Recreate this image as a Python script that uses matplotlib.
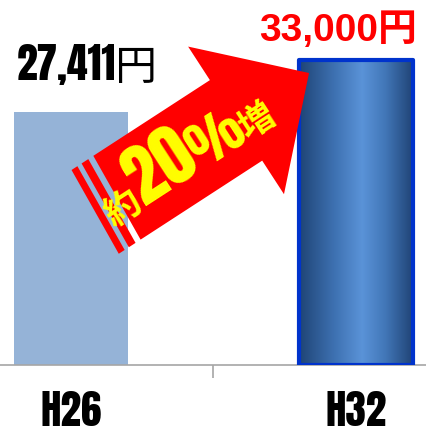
import numpy as np
import matplotlib
matplotlib.use("Agg")
import matplotlib.pyplot as plt
from matplotlib.patches import Polygon
from matplotlib.colors import LinearSegmentedColormap
from matplotlib.transforms import Affine2D, IdentityTransform

# data
years = ["H26", "H32"]
costs = [27411, 33000]
cost_labels = ["27,411円", "33,000円"]
growth_parts = ["約", "20", "%", "増"]

NARROW = ["Anton", "DejaVu Sans", "Noto Sans CJK JP"]
WIDE = ["Liberation Sans", "DejaVu Sans", "Noto Sans CJK JP"]
CJK = ["Noto Sans CJK JP", "DejaVu Sans"]

W, H = 427, 446
fig = plt.figure(figsize=(W / 100, H / 100), dpi=100)
ax = fig.add_axes([0, 81 / H, 1, 365 / H])

x = np.arange(len(years))
bar_w = 0.4

# H26 - plain light blue
ax.bar(x[0], costs[0], bar_w, color="#95B3D7", zorder=2)

# H32 - cylinder-ish gradient with blue frame
b2 = ax.bar(x[1], costs[1], bar_w, facecolor="none", edgecolor="#0033CC",
            linewidth=3, joinstyle="round", zorder=4)[0]
cyl = LinearSegmentedColormap.from_list("cyl", [
    (0.00, "#1F4476"), (0.30, "#3D70B0"), (0.55, "#5A93D8"),
    (0.75, "#4277B8"), (1.00, "#1F4274")])
grad = np.linspace(0, 1, 256)[None, :]
im = ax.imshow(grad, cmap=cyl, aspect="auto", zorder=3,
               extent=[b2.get_x(), b2.get_x() + b2.get_width(), 0, b2.get_height()])
im.set_clip_path(b2)

ax.set_xlim(-0.249, 1.249)
ax.set_ylim(0, 39492)
for s in ("top", "left", "right"):
    ax.spines[s].set_visible(False)
ax.spines["bottom"].set_color("#A6A6A6")
ax.spines["bottom"].set_linewidth(1.2)
ax.set_yticks([])
ax.set_xticks(x, years)
ax.tick_params(axis="x", which="major", length=0, pad=19)
ax.set_xticks([0.5], minor=True)
ax.tick_params(axis="x", which="minor", length=9, width=1.2, color="#A6A6A6")
for lbl in ax.get_xticklabels():
    lbl.set_family(NARROW)
    lbl.set_fontsize(29.5)

# value labels
ax.annotate(cost_labels[0], xy=(x[0], costs[0]), xytext=(12, 23),
            textcoords="offset points", ha="center", va="baseline",
            family=NARROW, fontsize=30, color="black")
ax.annotate(cost_labels[1], xy=(x[1], costs[1]), xytext=(-12.6, 13.7),
            textcoords="offset points", ha="center", va="baseline",
            family=WIDE, fontweight="bold", fontsize=28, color="#FF0000")

# big red arrow, local frame: u along arrow, y' to its left
corner = ax.transData.transform((x[1] - bar_w / 2, costs[1]))
ang = 33
tip = corner + np.array([10, -13])
c = tip - 87 * np.array([np.cos(np.radians(ang)), np.sin(np.radians(ang))])
tr = Affine2D().rotate_deg(ang).translate(*c)

arrow_pts = [(-139, 48), (0, 48), (0, 88), (87, 0), (0, -88), (0, -48), (-145, -48)]
stripes = [
    [(-153, 48), (-145, 48), (-151, -48), (-159, -48)],
    [(-165, 48), (-158, 48), (-164, -48), (-171, -48)],
]
fig.add_artist(Polygon(arrow_pts, closed=True, facecolor="#FF0000",
                       edgecolor="none", transform=tr, zorder=10))
for st in stripes:
    fig.add_artist(Polygon(st, closed=True, facecolor="#FF0000",
                           edgecolor="none", transform=tr, zorder=10))

# text along the arrow
text_specs = [(-143, CJK, 26), (-89, NARROW, 50), (-27, NARROW, 38), (17, CJK, 26)]
for s, (u, fam, fs) in zip(growth_parts, text_specs):
    px, py = tr.transform((u, -23))
    fig.text(px, py, s, transform=IdentityTransform(), rotation=ang,
             rotation_mode="anchor", ha="center", va="baseline",
             family=fam, fontweight="bold", fontsize=fs, color="#FFFF00",
             zorder=11)

fig.savefig("out.png", dpi=100, facecolor="white")
